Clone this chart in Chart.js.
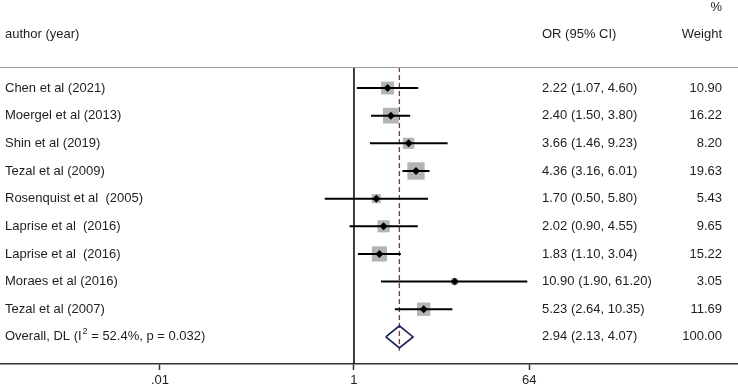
<!DOCTYPE html>
<html>
<head>
<meta charset="utf-8">
<script src="https://cdn.jsdelivr.net/npm/chart.js@4/dist/chart.umd.min.js"></script>
<style>
body { margin: 0; background: #fff; }
#wrap { width: 738px; height: 389px; }
</style>
</head>
<body>
<div id="wrap"><canvas id="forest"></canvas></div>
<script>
// study rows, top to bottom
const studies = ['Chen et al (2021)', 'Moergel et al (2013)', 'Shin et al (2019)', 'Tezal et al (2009)',
    'Rosenquist et al  (2005)', 'Laprise et al  (2016)', 'Laprise et al  (2016)', 'Moraes et al (2016)', 'Tezal et al (2007)'];
const oddsRatios = [2.22, 2.40, 3.66, 4.36, 1.70, 2.02, 1.83, 10.90, 5.23];
const ciLow = [1.07, 1.50, 1.46, 3.16, 0.50, 0.90, 1.10, 1.90, 2.64];
const ciHigh = [4.60, 3.80, 9.23, 6.01, 5.80, 4.55, 3.04, 61.20, 10.35];
const weights = [10.90, 16.22, 8.20, 19.63, 5.43, 9.65, 15.22, 3.05, 11.69];

const overallParts = ['Overall, DL (I', '2', ' = 52.4%, p = 0.032)'];
const overallOR = 2.94;
const overallLow = 2.13;
const overallHigh = 4.07;
const overallWeight = 100.00;

const xTicks = [0.01, 1, 64];
const xTickLabels = ['.01', '1', '64'];

const overallRow = studies.length;
const yTop = -0.76;
const yBottom = 9.98;

const font = '13px "Liberation Sans", Arial, sans-serif';
const textColor = '#1e1e1e';

const fmt = v => v.toFixed(2);

const datasets = [];

// black diamond point estimates
datasets.push({
    data: oddsRatios.map((v, i) => ({ x: v, y: i })),
    pointStyle: 'rectRot',
    pointRadius: 4,
    backgroundColor: '#000',
    borderColor: '#000',
    borderWidth: 0,
    showLine: false,
    order: 0
});

// confidence intervals
studies.forEach((s, i) => {
    datasets.push({
        data: [{ x: ciLow[i], y: i }, { x: ciHigh[i], y: i }],
        showLine: true,
        borderColor: '#000',
        borderWidth: 2,
        pointRadius: 0,
        order: 1
    });
});

// grey weight boxes
datasets.push({
    data: oddsRatios.map((v, i) => ({ x: v, y: i })),
    pointStyle: 'rect',
    pointRadius: weights.map(w => Math.sqrt(w) * 3.9 / Math.SQRT2),
    backgroundColor: '#b4b4b4',
    borderWidth: 0,
    showLine: false,
    order: 2
});

// overall diamond
datasets.push({
    data: [
        { x: overallLow, y: overallRow },
        { x: overallOR, y: overallRow - 0.4 },
        { x: overallHigh, y: overallRow },
        { x: overallOR, y: overallRow + 0.4 },
        { x: overallLow, y: overallRow }
    ],
    showLine: true,
    borderColor: '#1a1a60',
    borderWidth: 1.6,
    pointRadius: 0,
    order: 0
});

// dashed overall line
datasets.push({
    data: [{ x: overallOR, y: yTop }, { x: overallOR, y: overallRow + 0.5 }],
    showLine: true,
    borderColor: '#a02838',
    borderWidth: 1.3,
    borderDash: [5, 3],
    pointRadius: 0,
    order: 3
});

// null line at 1
datasets.push({
    data: [{ x: 1, y: yTop }, { x: 1, y: yBottom }],
    showLine: true,
    borderColor: '#000',
    borderWidth: 1.5,
    pointRadius: 0,
    order: 3
});

const tablePlugin = {
    id: 'table',
    afterDraw(chart) {
        const ctx = chart.ctx;
        const y = chart.scales.y;
        const area = chart.chartArea;
        ctx.save();

        // header separator
        ctx.strokeStyle = '#9a9a9a';
        ctx.lineWidth = 1;
        ctx.beginPath();
        ctx.moveTo(0, area.top + 0.5);
        ctx.lineTo(chart.width, area.top + 0.5);
        ctx.stroke();

        ctx.font = font;
        ctx.fillStyle = textColor;
        ctx.textBaseline = 'middle';

        ctx.textAlign = 'left';
        ctx.fillText('author (year)', 5, 34);
        ctx.fillText('OR (95% CI)', 542, 34);
        ctx.textAlign = 'right';
        ctx.fillText('%', 722, 7);
        ctx.fillText('Weight', 722, 34);

        studies.forEach((s, i) => {
            const py = y.getPixelForValue(i);
            ctx.textAlign = 'left';
            ctx.fillText(s, 5, py);
            ctx.fillText(fmt(oddsRatios[i]) + ' (' + fmt(ciLow[i]) + ', ' + fmt(ciHigh[i]) + ')', 542, py);
            ctx.textAlign = 'right';
            ctx.fillText(fmt(weights[i]), 722, py);
        });

        const oy = y.getPixelForValue(overallRow);
        ctx.textAlign = 'left';
        let px = 5;
        ctx.fillText(overallParts[0], px, oy);
        px += ctx.measureText(overallParts[0]).width + 1;
        ctx.font = '9px "Liberation Sans", Arial, sans-serif';
        ctx.fillText(overallParts[1], px, oy - 5);
        px += ctx.measureText(overallParts[1]).width;
        ctx.font = font;
        ctx.fillText(overallParts[2], px, oy);
        ctx.fillText(fmt(overallOR) + ' (' + fmt(overallLow) + ', ' + fmt(overallHigh) + ')', 542, oy);
        ctx.textAlign = 'right';
        ctx.fillText(fmt(overallWeight), 722, oy);

        ctx.restore();
    }
};

new Chart(document.getElementById('forest').getContext('2d'), {
    type: 'scatter',
    data: { datasets },
    options: {
        responsive: true,
        maintainAspectRatio: false,
        animation: false,
        layout: { autoPadding: false, padding: { top: 67, left: 0, right: 0, bottom: 0 } },
        plugins: { legend: { display: false }, tooltip: { enabled: false } },
        scales: {
            x: {
                type: 'logarithmic',
                min: 2.244e-4,
                max: 9099,
                afterBuildTicks: scale => { scale.ticks = xTicks.map(v => ({ value: v })); },
                afterFit: scale => {
                    scale.paddingLeft = 0;
                    scale.paddingRight = 0;
                    scale.height = 25;
                },
                ticks: {
                    autoSkip: false,
                    maxRotation: 0,
                    color: textColor,
                    font: { family: '"Liberation Sans", Arial, sans-serif', size: 13 },
                    padding: 3,
                    callback: (v, i) => xTickLabels[i]
                },
                grid: { drawOnChartArea: false, drawTicks: true, tickLength: 6, color: '#333', tickWidth: 1.5 },
                border: { display: true, color: '#333', width: 1.5 }
            },
            y: {
                type: 'linear',
                reverse: true,
                min: yTop,
                max: yBottom,
                display: false
            }
        }
    },
    plugins: [tablePlugin]
});
</script>
</body>
</html>
